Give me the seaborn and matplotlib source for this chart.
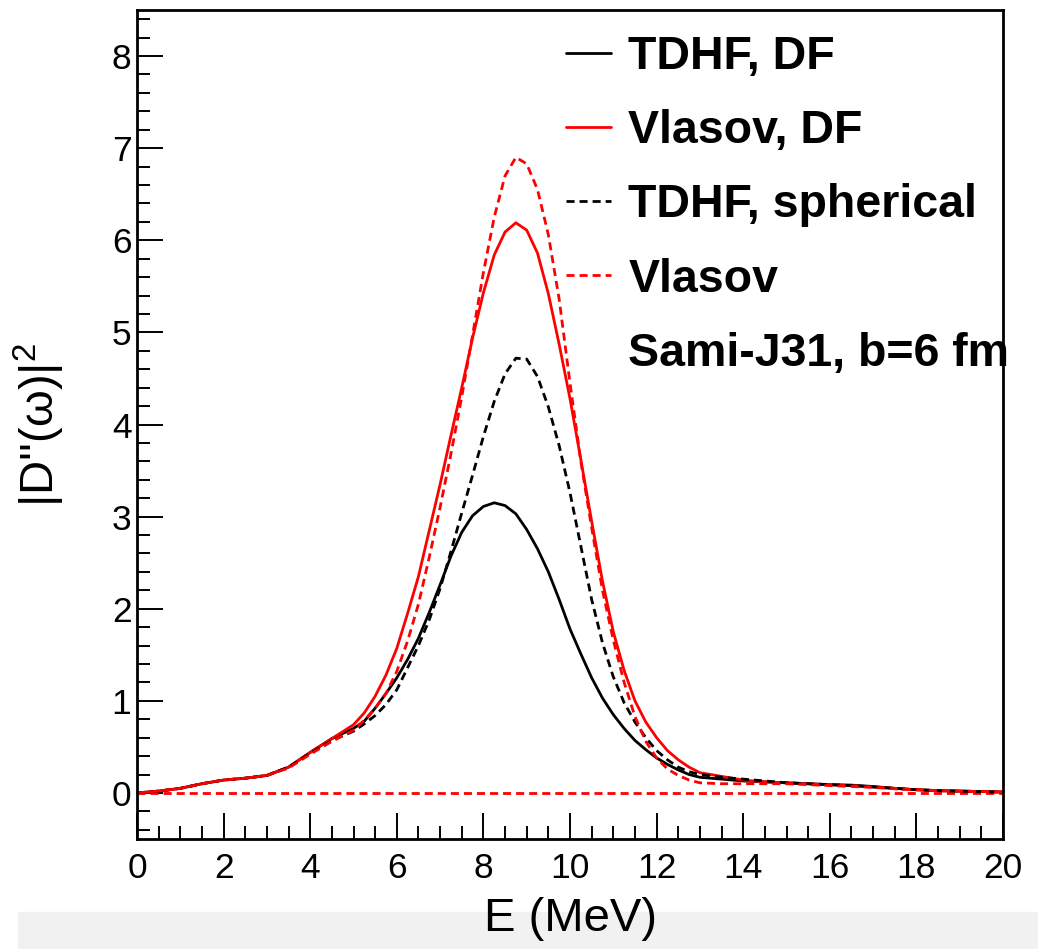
import numpy as np
import pandas as pd
import matplotlib
matplotlib.use("Agg")
import matplotlib.pyplot as plt
from matplotlib.lines import Line2D
from matplotlib.patches import Rectangle
from matplotlib.ticker import MultipleLocator
import seaborn as sns

# ---------------- data ----------------
energy = ([0.0, 0.5, 1.0, 1.5, 2.0, 2.5, 3.0, 3.5, 4.0, 4.5]
          + [5.0 + 0.25 * i for i in range(33)]
          + [13.5, 14.0, 14.5, 15.0, 15.5, 16.0, 16.5, 17.0, 17.5, 18.0, 18.5, 19.0, 19.5, 20.0])

tdhf_df = ([0.00, 0.02, 0.05, 0.10, 0.14, 0.16, 0.19, 0.28, 0.44, 0.59]
           + [0.70, 0.78, 0.92, 1.08, 1.25, 1.45, 1.68, 1.96, 2.26, 2.57,
              2.83, 3.01, 3.11, 3.15, 3.12, 3.03, 2.86, 2.65, 2.40, 2.10,
              1.78, 1.51, 1.25, 1.03, 0.85, 0.70, 0.57, 0.47, 0.38, 0.31,
              0.25, 0.20, 0.17]
           + [0.15, 0.13, 0.12, 0.11, 0.10, 0.09, 0.085, 0.07, 0.05, 0.035, 0.025, 0.02, 0.015, 0.01])

vlasov_df = ([0.00, 0.02, 0.05, 0.10, 0.14, 0.16, 0.19, 0.28, 0.44, 0.59]
             + [0.74, 0.87, 1.05, 1.28, 1.57, 1.95, 2.35, 2.85, 3.35, 3.88,
                4.40, 4.94, 5.43, 5.84, 6.09, 6.19, 6.11, 5.86, 5.42, 4.87,
                4.28, 3.62, 2.95, 2.30, 1.75, 1.33, 1.00, 0.77, 0.60, 0.46,
                0.36, 0.28, 0.22]
             + [0.18, 0.14, 0.12, 0.11, 0.10, 0.09, 0.08, 0.065, 0.05, 0.035, 0.025, 0.02, 0.015, 0.01])

tdhf_sph = ([0.00, 0.02, 0.05, 0.10, 0.14, 0.16, 0.19, 0.28, 0.43, 0.57]
            + [0.67, 0.75, 0.84, 0.96, 1.12, 1.36, 1.60, 1.88, 2.22, 2.62,
               3.04, 3.45, 3.87, 4.25, 4.55, 4.72, 4.71, 4.52, 4.19, 3.77,
               3.26, 2.68, 2.10, 1.63, 1.26, 0.98, 0.77, 0.60, 0.46, 0.36,
               0.28, 0.23, 0.20]
            + [0.17, 0.15, 0.13, 0.11, 0.10, 0.09, 0.08, 0.065, 0.05, 0.035, 0.025, 0.02, 0.015, 0.01])

vlasov_sph = ([0.00, 0.02, 0.05, 0.10, 0.14, 0.16, 0.19, 0.27, 0.42, 0.56]
              + [0.68, 0.79, 0.92, 1.08, 1.32, 1.65, 2.05, 2.56, 3.10, 3.68,
                 4.30, 4.97, 5.65, 6.25, 6.70, 6.90, 6.83, 6.55, 6.06, 5.36,
                 4.45, 3.60, 2.88, 2.20, 1.66, 1.20, 0.83, 0.56, 0.38, 0.26,
                 0.19, 0.14, 0.11]
              + [0.10, 0.10, 0.10, 0.10, 0.09, 0.08, 0.07, 0.06, 0.045, 0.035, 0.025, 0.02, 0.015, 0.01])

baseline_value = 0.0

labels = ["TDHF, DF", "Vlasov, DF", "TDHF, spherical", "Vlasov"]
note_text = "Sami-J31, b=6 fm"
x_ticks = [0, 2, 4, 6, 8, 10, 12, 14, 16, 18, 20]
y_ticks = [0, 1, 2, 3, 4, 5, 6, 7, 8]

# ---------------- style ----------------
sns.set_style("ticks")
plt.rcParams["font.family"] = ["Liberation Sans", "DejaVu Sans"]
plt.rcParams.update({
    "text.color": "black", "axes.labelcolor": "black",
    "xtick.color": "black", "ytick.color": "black",
    "mathtext.fontset": "custom", "mathtext.rm": "Liberation Sans",
    "mathtext.it": "Liberation Sans:italic", "mathtext.bf": "Liberation Sans:bold",
})

W, H = 1038, 949
fig = plt.figure(figsize=(W / 100, H / 100), dpi=100)
fig.patch.set_facecolor("white")
ax = fig.add_axes([137 / W, 1 - 839 / H, (1003 - 137) / W, (839 - 10) / H])

# light screenshot band at bottom
fig.patches.append(Rectangle((18 / W, 0), 1 - 18 / W, (949 - 912) / H,
                             transform=fig.transFigure, color="#f1f1f1", zorder=-10))

df = pd.DataFrame({"E": energy, labels[0]: tdhf_df, labels[1]: vlasov_df,
                   labels[2]: tdhf_sph, labels[3]: vlasov_sph})

lw = 2.0
dash = (2.9, 1.8)
styles = {
    labels[0]: dict(color="black", dashed=False),
    labels[1]: dict(color="#ff0000", dashed=False),
    labels[2]: dict(color="black", dashed=True),
    labels[3]: dict(color="#ff0000", dashed=True),
}

# baseline
ax.axhline(baseline_value, color="#ff0000", lw=lw, dashes=dash, zorder=1)

handles = []
for lab in labels:
    st = styles[lab]
    sns.lineplot(data=df, x="E", y=lab, ax=ax, color=st["color"], lw=lw,
                 legend=False, sort=True, errorbar=None)
    line = ax.lines[-1]
    line.set_solid_joinstyle("round")
    line.set_dash_joinstyle("round")
    if st["dashed"]:
        line.set_dashes(dash)
    h = Line2D([], [], color=st["color"], lw=lw)
    if st["dashed"]:
        h.set_dashes(dash)
    handles.append(h)

handles.append(Line2D([], [], color="none", lw=0))

ax.set_xlim(0, 20)
ax.set_ylim(-0.5, 8.5)
ax.set_xticks(x_ticks)
ax.set_yticks(y_ticks)
ax.xaxis.set_minor_locator(MultipleLocator(0.5))
ax.yaxis.set_minor_locator(MultipleLocator(0.2))
ax.tick_params(which="both", direction="in", top=False, right=False, width=1.4, color="black")
ax.tick_params(which="major", length=18.5)
ax.tick_params(which="minor", length=9.3)
ax.tick_params(axis="x", which="major", labelsize=25.5, pad=9)
ax.tick_params(axis="y", which="major", labelsize=25.5, pad=4)
for s in ax.spines.values():
    s.set_linewidth(2.0)
    s.set_color("black")

ax.set_xlabel("E (MeV)", fontsize=34)
ax.set_ylabel("|D''(ω)|$^{2}$", fontsize=34)
ax.xaxis.set_label_coords(0.5, -(897 - 839) / (839 - 10))
ax.yaxis.set_label_coords(-(137 - 67) / (1003 - 137), 0.5)

leg = fig.legend(handles, labels + [note_text], loc="upper left",
                 bbox_to_anchor=(566 / W, 1 - 35 / H), bbox_transform=fig.transFigure,
                 frameon=False, borderpad=0, borderaxespad=0,
                 handlelength=0.97, handletextpad=0.37, labelspacing=0.65,
                 prop={"family": "Liberation Sans", "weight": "bold", "size": 33.5})

fig.savefig("out.png", dpi=100)
